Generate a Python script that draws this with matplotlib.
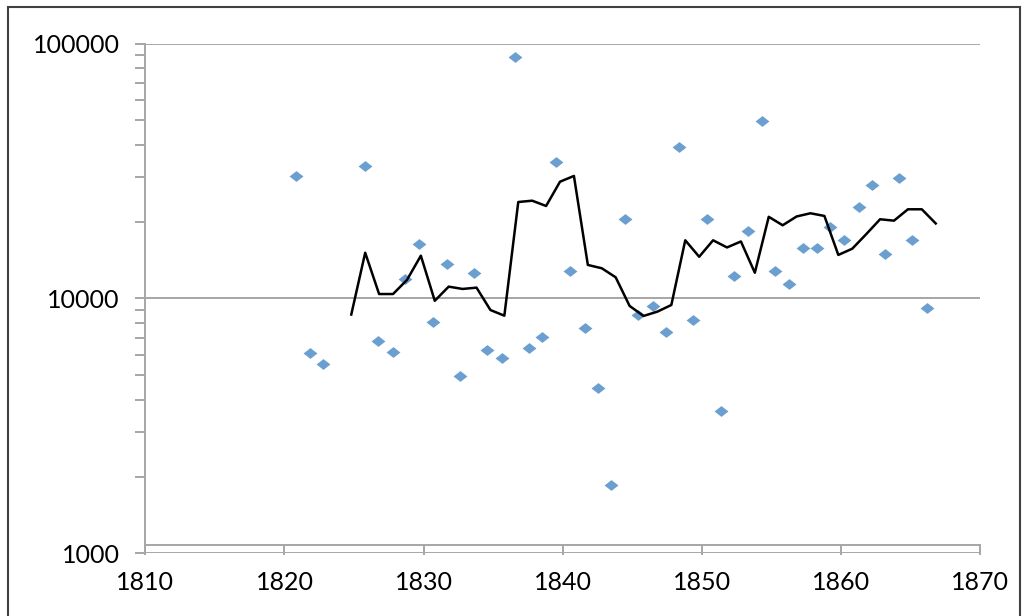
import matplotlib
matplotlib.use('Agg')
import matplotlib.pyplot as plt
from matplotlib.patches import Rectangle
from matplotlib.ticker import LogLocator, NullFormatter, FixedLocator

plt.rcParams['font.family'] = ['Lato', 'DejaVu Sans']

# scatter points (year, value)
point_years = [1820.85, 1821.83, 1822.79, 1825.78, 1826.74, 1827.77, 1828.68, 1829.68,
               1830.70, 1831.70, 1832.63, 1833.64, 1834.57, 1835.65, 1836.58, 1837.59,
               1838.52, 1839.50, 1840.51, 1841.57, 1842.50, 1843.48, 1844.46, 1845.40,
               1846.45, 1847.43, 1848.36, 1849.37, 1850.35, 1851.38, 1852.33, 1853.32,
               1854.30, 1855.26, 1856.26, 1857.27, 1858.25, 1859.21, 1860.24, 1861.25,
               1862.23, 1863.16, 1864.18, 1865.12, 1866.18]
point_values = [30200, 6110, 5535, 33200, 6815, 6170, 11900, 16300,
                8070, 13700, 4950, 12600, 6250, 5845, 88900, 6420,
                7065, 34400, 12800, 7625, 4470, 1853, 20550, 8620,
                9350, 7390, 39400, 8200, 20600, 3620, 12270, 18430,
                49700, 12770, 11410, 15720, 15720, 19010, 16990, 22770,
                27940, 14890, 29600, 16990, 9190]

# moving average line
line_years = [1824.8, 1825.8, 1826.8, 1827.8, 1828.8, 1829.8, 1830.8, 1831.8, 1832.8,
              1833.8, 1834.8, 1835.8, 1836.8, 1837.8, 1838.8, 1839.8, 1840.8, 1841.8,
              1842.8, 1843.8, 1844.8, 1845.8, 1846.8, 1847.8, 1848.8, 1849.8, 1850.8,
              1851.8, 1852.8, 1853.8, 1854.8, 1855.8, 1856.8, 1857.8, 1858.8, 1859.8,
              1860.8, 1861.8, 1862.8, 1863.8, 1864.8, 1865.8, 1866.8]
line_values = [8650, 15120, 10410, 10410, 11820, 14720, 9795, 11130, 10900,
               11030, 9010, 8560, 23910, 24200, 23070, 28730, 30260, 13540,
               13140, 12110, 9350, 8540, 8880, 9430, 16920, 14580, 16920,
               15860, 16740, 12620, 20920, 19380, 20980, 21600, 21080, 14820,
               15680, 17870, 20460, 20200, 22390, 22390, 19700]

x_ticks = [1810, 1820, 1830, 1840, 1850, 1860, 1870]
y_ticks = [1000, 10000, 100000]

grey = '#a6a6a6'

fig = plt.figure(figsize=(10.27, 6.16), dpi=100)
ax = fig.add_axes([0.1415, 0.1018, 0.8130, 0.8273])

diamond = [(0, 0.78), (1, 0), (0, -0.78), (-1, 0), (0, 0.78)]
ax.plot(point_years, point_values, linestyle='none', marker=diamond, markersize=10,
        color='#6a9fd0', markeredgewidth=0, zorder=3)
ax.plot(line_years, line_values, color='black', linewidth=1.8, zorder=4)

ax.set_yscale('log')
ax.set_xlim(1810, 1870)
ax.set_ylim(1000, 100000)
ax.set_xticks(x_ticks)
ax.set_xticklabels([str(t) for t in x_ticks])
ax.yaxis.set_major_locator(FixedLocator(y_ticks))
ax.set_yticklabels([str(t) for t in y_ticks])
ax.yaxis.set_minor_locator(LogLocator(base=10, subs=range(2, 10)))
ax.yaxis.set_minor_formatter(NullFormatter())

ax.grid(axis='y', which='major', color=grey, linewidth=1.4)
ax.set_axisbelow(True)

for s in ['top', 'right']:
    ax.spines[s].set_visible(False)
ax.spines['left'].set_color(grey)
ax.spines['left'].set_linewidth(1.4)
ax.spines['bottom'].set_color(grey)
ax.spines['bottom'].set_linewidth(1.4)
ax.spines['bottom'].set_position(('data', 1075))

ax.tick_params(axis='both', which='both', direction='out', color=grey, width=1.4,
               length=7.5, labelsize=18, labelcolor='black')
ax.tick_params(axis='y', which='major', pad=11)
ax.tick_params(axis='x', which='major', pad=11)

# chart area border
fig.patches.append(Rectangle((7.5 / 1027, -0.05), 1012 / 1027, 1 - 7.5 / 616 + 0.05,
                             transform=fig.transFigure, fill=False,
                             edgecolor='#404040', linewidth=1.5))

fig.savefig('out.png', dpi=100)
